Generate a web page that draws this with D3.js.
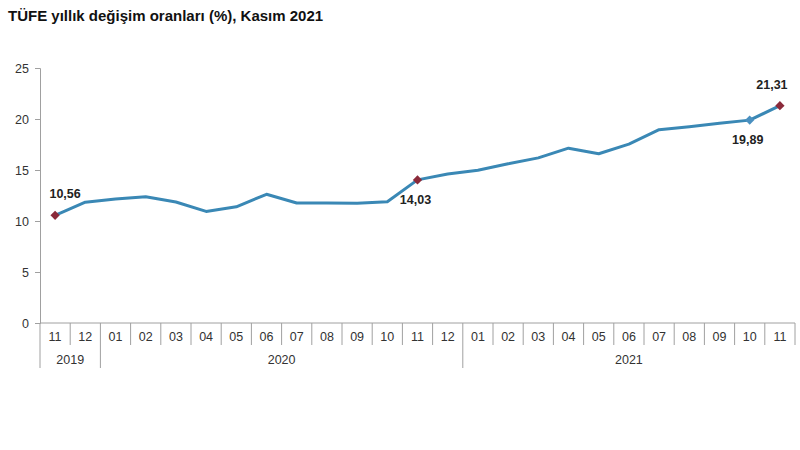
<!DOCTYPE html>
<meta charset="utf-8">
<script src="https://d3js.org/d3.v7.min.js"></script>
<style>
  body { margin: 0; background: #fff; }
  text { font-family: Arial, "Liberation Sans", sans-serif; }
</style>
<div id="my_dataviz"></div>
<script>

    // data: month labels, year groups, yearly CPI change
    var months = ["11","12","01","02","03","04","05","06","07","08","09","10","11","12",
                  "01","02","03","04","05","06","07","08","09","10","11"];
    var years = ["2019","2019","2020","2020","2020","2020","2020","2020","2020","2020","2020","2020","2020","2020",
                 "2021","2021","2021","2021","2021","2021","2021","2021","2021","2021","2021"];
    var values = [10.56, 11.84, 12.15, 12.37, 11.86, 10.94, 11.39, 12.62, 11.76, 11.77, 11.75, 11.89, 14.03, 14.60,
                  14.97, 15.61, 16.19, 17.14, 16.59, 17.53, 18.95, 19.25, 19.58, 19.89, 21.31];
    var yTicks = [0, 5, 10, 15, 20, 25];
    // points that get a marker + label
    var marked = [
        {i: 0, color: "#8b2a3a", pos: "above", dx: 10},
        {i: 12, color: "#8b2a3a", pos: "below", dx: -2},
        {i: 23, color: "#4a90c0", pos: "below", dx: -2},
        {i: 24, color: "#8b2a3a", pos: "above", dx: -8}
    ];

    var margin = {top: 68, right: 5, bottom: 127, left: 40},
        width = 800 - margin.left - margin.right,
        height = 450 - margin.top - margin.bottom;

    var svg = d3.select("#my_dataviz")
        .append("svg")
        .attr("width", 800)
        .attr("height", 450);

    // title
    svg.append("text")
        .attr("x", 8)
        .attr("y", 21)
        .style("font-size", "15px")
        .style("font-weight", "bold")
        .attr("fill", "#111")
        .text("TÜFE yıllık değişim oranları (%), Kasım 2021");

    var g = svg.append("g")
        .attr("transform", "translate(" + margin.left + "," + margin.top + ")");

    var idx = d3.range(values.length);
    var x = d3.scaleBand()
        .domain(idx)
        .range([0, width])
        .padding(0);

    var y = d3.scaleLinear()
        .domain([0, 25])
        .range([height, 0]);

    // Y axis
    var yAxis = g.append("g")
        .call(d3.axisLeft(y).tickValues(yTicks).tickSize(5).tickPadding(6));
    yAxis.select(".domain").attr("stroke", "#a0a0a0");
    yAxis.selectAll(".tick line").attr("stroke", "#a0a0a0");
    yAxis.selectAll(".tick text").style("font-size", "12.5px").attr("fill", "#333");

    // X axis baseline
    g.append("line")
        .attr("x1", 0).attr("x2", width)
        .attr("y1", height).attr("y2", height)
        .attr("stroke", "#a0a0a0");

    // month separators
    g.selectAll(".msep")
        .data(d3.range(values.length + 1))
        .enter()
        .append("line")
        .attr("x1", function(d) { return d < values.length ? x(d) : width; })
        .attr("x2", function(d) { return d < values.length ? x(d) : width; })
        .attr("y1", height)
        .attr("y2", function(d) {
            if (d === 0 || (d < values.length && years[d] !== years[d - 1])) return height + 45;
            return height + 22;
        })
        .attr("stroke", "#a0a0a0");

    // month labels
    g.selectAll(".mlab")
        .data(idx)
        .enter()
        .append("text")
        .attr("x", function(d) { return x(d) + x.bandwidth() / 2; })
        .attr("y", height + 18)
        .attr("text-anchor", "middle")
        .style("font-size", "12.5px")
        .attr("fill", "#333")
        .text(function(d) { return months[d]; });

    // year labels
    var yearGroups = d3.groups(idx, function(d) { return years[d]; });
    g.selectAll(".ylab")
        .data(yearGroups)
        .enter()
        .append("text")
        .attr("x", function(d) {
            var a = x(d[1][0]), b = x(d[1][d[1].length - 1]) + x.bandwidth();
            return (a + b) / 2;
        })
        .attr("y", height + 41)
        .attr("text-anchor", "middle")
        .style("font-size", "12.5px")
        .attr("fill", "#333")
        .text(function(d) { return d[0]; });

    // line
    var line = d3.line()
        .x(function(d) { return x(d) + x.bandwidth() / 2; })
        .y(function(d) { return y(values[d]); });

    g.append("path")
        .datum(idx)
        .attr("fill", "none")
        .attr("stroke", "#3a88b5")
        .attr("stroke-width", 3)
        .attr("stroke-linejoin", "round")
        .attr("d", line);

    // markers
    var diamond = d3.symbol().type(d3.symbolDiamond2).size(55);
    g.selectAll(".mark")
        .data(marked)
        .enter()
        .append("path")
        .attr("d", diamond)
        .attr("transform", function(d) {
            return "translate(" + (x(d.i) + x.bandwidth() / 2) + "," + y(values[d.i]) + ")";
        })
        .attr("fill", function(d) { return d.color; });

    // value labels
    g.selectAll(".vlab")
        .data(marked)
        .enter()
        .append("text")
        .attr("x", function(d) { return x(d.i) + x.bandwidth() / 2 + d.dx; })
        .attr("y", function(d) { return y(values[d.i]) + (d.pos === "above" ? -17 : 24); })
        .attr("text-anchor", "middle")
        .style("font-size", "12.5px")
        .style("font-weight", "bold")
        .attr("fill", "#222")
        .text(function(d) { return values[d.i].toFixed(2).replace(".", ","); });

</script>
